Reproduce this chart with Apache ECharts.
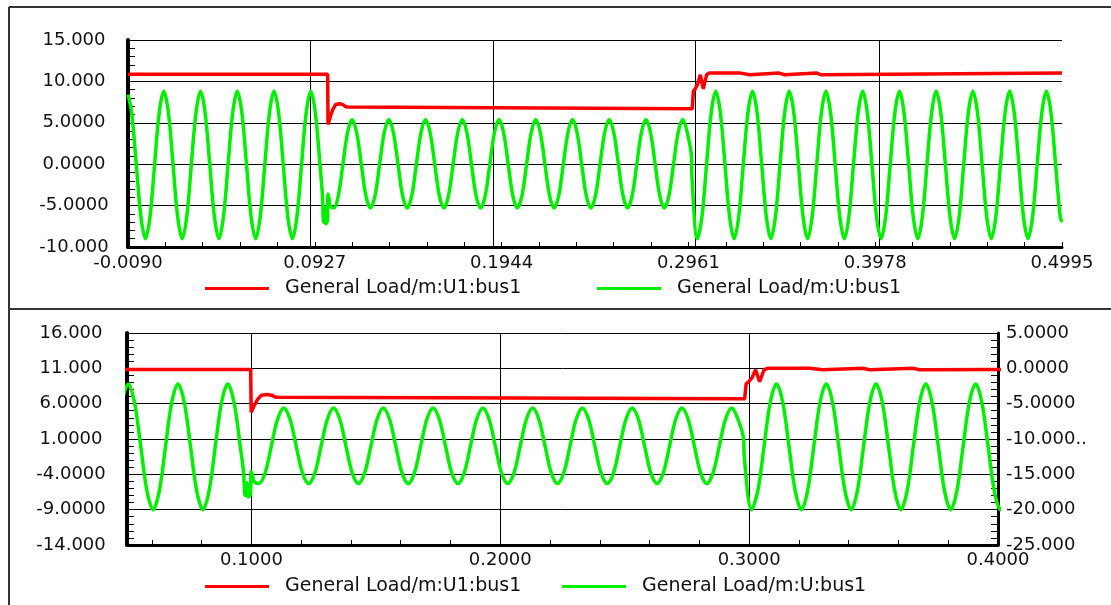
<!DOCTYPE html>
<html><head><meta charset="utf-8">
<script src="https://cdn.jsdelivr.net/npm/echarts@6/dist/echarts.min.js"></script>
<style>html,body{margin:0;padding:0;background:#fff}#c{width:1111px;height:605px}</style>
</head><body><div id="c"></div>
<script>
// ---- series names ----
const seriesNames = ['General Load/m:U1:bus1', 'General Load/m:U:bus1'];

// ---- red: General Load/m:U1:bus1  [time, value] ----
const redPts = [
[-0.009,10.85],[0.0997,10.85],[0.0999,4.8],[0.1005,4.9],[0.1012,5.8],[0.1025,6.6],[0.104,7.2],[0.1065,7.3],[0.108,7.2],[0.1095,6.95],[0.111,6.9],[0.1118,6.7],
[0.2982,6.7],[0.2988,8.8],[0.2998,9.1],[0.3012,9.7],[0.3026,10.8],[0.3032,10.8],[0.3042,9.1],[0.3048,9.2],[0.306,10.8],[0.3075,11.0],
[0.3245,11.0],[0.325,10.8],[0.3295,10.8],[0.33,11.0],[0.3455,11.0],[0.346,10.8],[0.3485,10.8],[0.349,11.0],
[0.366,11.0],[0.3665,10.8],[0.3685,10.8],[0.369,11.0],[0.4995,11.0]
];

// ---- green: General Load/m:U:bus1  [time, value] ----
const greenPre = [
[-0.009,8.4],[-0.007,6.2],[-0.0045,0],[-0.002,-6.3],
[0.0005,-9.0],[0.003,-6.3],[0.0055,0],[0.008,6.2],[0.0105,8.8],[0.013,6.2],[0.0155,0],[0.018,-6.3],
[0.0205,-9.0],[0.023,-6.3],[0.0255,0],[0.028,6.2],[0.0305,8.8],[0.033,6.2],[0.0355,0],[0.038,-6.3],
[0.0405,-9.0],[0.043,-6.3],[0.0455,0],[0.048,6.2],[0.0505,8.8],[0.053,6.2],[0.0555,0],[0.058,-6.3],
[0.0605,-9.0],[0.063,-6.3],[0.0655,0],[0.068,6.2],[0.0705,8.8],[0.073,6.2],[0.0755,0],[0.078,-6.3],
[0.0805,-9.0],[0.083,-6.3],[0.0855,0],[0.088,6.2],[0.0905,8.8],[0.093,6.2],[0.0955,0],[0.0968,-3.6]
];
const greenFault = [
[0.0975,-7.0],[0.0982,-5.2],[0.0988,-7.2],[0.0996,-6.8],[0.0999,-3.6],[0.1005,-4.2],[0.101,-5.0],
[0.103,-5.3],[0.1055,-3.8],[0.108,0],[0.1105,3.8],
[0.113,5.4],[0.1155,3.8],[0.118,0],[0.1205,-3.8],[0.123,-5.3],[0.1255,-3.8],[0.128,0],[0.1305,3.8],
[0.133,5.4],[0.1355,3.8],[0.138,0],[0.1405,-3.8],[0.143,-5.3],[0.1455,-3.8],[0.148,0],[0.1505,3.8],
[0.153,5.4],[0.1555,3.8],[0.158,0],[0.1605,-3.8],[0.163,-5.3],[0.1655,-3.8],[0.168,0],[0.1705,3.8],
[0.173,5.4],[0.1755,3.8],[0.178,0],[0.1805,-3.8],[0.183,-5.3],[0.1855,-3.8],[0.188,0],[0.1905,3.8],
[0.193,5.4],[0.1955,3.8],[0.198,0],[0.2005,-3.8],[0.203,-5.3],[0.2055,-3.8],[0.208,0],[0.2105,3.8],
[0.213,5.4],[0.2155,3.8],[0.218,0],[0.2205,-3.8],[0.223,-5.3],[0.2255,-3.8],[0.228,0],[0.2305,3.8],
[0.233,5.4],[0.2355,3.8],[0.238,0],[0.2405,-3.8],[0.243,-5.3],[0.2455,-3.8],[0.248,0],[0.2505,3.8],
[0.253,5.4],[0.2555,3.8],[0.258,0],[0.2605,-3.8],[0.263,-5.3],[0.2655,-3.8],[0.268,0],[0.2705,3.8],
[0.273,5.4],[0.2755,3.8],[0.278,0],[0.2805,-3.8],[0.283,-5.3],[0.2855,-3.8],[0.288,0],[0.2905,3.8],
[0.293,5.4],[0.2955,3.8],[0.2978,0.9]
];
const greenPost = [
[0.298,-1.3],
[0.301,-9.0],[0.3035,-6.3],[0.306,0],[0.3085,6.2],[0.311,8.8],[0.3135,6.2],[0.316,0],[0.3185,-6.3],
[0.321,-9.0],[0.3235,-6.3],[0.326,0],[0.3285,6.2],[0.331,8.8],[0.3335,6.2],[0.336,0],[0.3385,-6.3],
[0.341,-9.0],[0.3435,-6.3],[0.346,0],[0.3485,6.2],[0.351,8.8],[0.3535,6.2],[0.356,0],[0.3585,-6.3],
[0.361,-9.0],[0.3635,-6.3],[0.366,0],[0.3685,6.2],[0.371,8.8],[0.3735,6.2],[0.376,0],[0.3785,-6.3],
[0.381,-9.0],[0.3835,-6.3],[0.386,0],[0.3885,6.2],[0.391,8.8],[0.3935,6.2],[0.396,0],[0.3985,-6.3],
[0.401,-9.0],[0.4035,-6.3],[0.406,0],[0.4085,6.2],[0.411,8.8],[0.4135,6.2],[0.416,0],[0.4185,-6.3],
[0.421,-9.0],[0.4235,-6.3],[0.426,0],[0.4285,6.2],[0.431,8.8],[0.4335,6.2],[0.436,0],[0.4385,-6.3],
[0.441,-9.0],[0.4435,-6.3],[0.446,0],[0.4485,6.2],[0.451,8.8],[0.4535,6.2],[0.456,0],[0.4585,-6.3],
[0.461,-9.0],[0.4635,-6.3],[0.466,0],[0.4685,6.2],[0.471,8.8],[0.4735,6.2],[0.476,0],[0.4785,-6.3],
[0.481,-9.0],[0.4835,-6.3],[0.486,0],[0.4885,6.2],[0.491,8.8],[0.4935,6.2],[0.496,0],[0.4985,-6.3],
[0.4995,-7.0]
];

// ---- tick values and labels ----
const topXTicks  = [-0.009, 0.0927, 0.1944, 0.2961, 0.3978, 0.4995];
const topXLabels = ['-0.0090','0.0927','0.1944','0.2961','0.3978','0.4995'];
const topYTicks  = [-10, -5, 0, 5, 10, 15];
const topYLabels = ['-10.000','-5.0000','0.0000','5.0000','10.000','15.000'];
const botXTicks  = [0.1, 0.2, 0.3, 0.4];
const botXLabels = ['0.1000','0.2000','0.3000','0.4000'];
const botXMinor  = [0.06,0.08,0.1,0.12,0.14,0.16,0.18,0.2,0.22,0.24,0.26,0.28,0.3,0.32,0.34,0.36,0.38,0.4];
const botYTicks  = [-14, -9, -4, 1, 6, 11, 16];
const botYLabels = ['-14.000','-9.0000','-4.0000','1.0000','6.0000','11.000','16.000'];
const botY2Ticks  = [-25, -20, -15, -10, -5, 0, 5];
const botY2Labels = ['-25.000','-20.000','-15.000','-10.000..','-5.0000','0.0000','5.0000'];

// ---- build ----
const greenPts = greenPre.concat(greenFault, greenPost);
const topXMinor = [];
for (let i = 0; i < topXTicks.length - 1; i++) {
  for (let j = 0; j < 5; j++) topXMinor.push(topXTicks[i] + (topXTicks[i+1] - topXTicks[i]) * j / 5);
}
topXMinor.push(topXTicks[topXTicks.length - 1]);
const botYMinor = [];
for (let v = botYTicks[0]; v <= botYTicks[botYTicks.length - 1]; v++) botYMinor.push(v);

function lab(ticks, labels) {
  return function (v) {
    let b = 0;
    for (let i = 1; i < ticks.length; i++) if (Math.abs(ticks[i] - v) < Math.abs(ticks[b] - v)) b = i;
    return labels[b];
  };
}

const FONT = 'DejaVu Sans';
const TXT = '#111';
const GREEN = '#00f000';
const RED = '#ff0000';
const lbl = (extra) => Object.assign({fontSize: 18, fontFamily: FONT, color: TXT}, extra);
const black = (w) => ({color: '#000', width: w});

function gridLines(xi, yi, vals) {
  return {
    type: 'line', xAxisIndex: xi, yAxisIndex: yi, data: [], silent: true,
    markLine: {
      silent: true, symbol: 'none', z: 1, animation: false,
      label: {show: false}, emphasis: {disabled: true},
      lineStyle: {color: '#000', width: 1, type: 'solid'},
      data: vals.map(v => ({xAxis: v}))
    }
  };
}
function greenSeries(xi, yi) {
  return {name: seriesNames[1], type: 'line', xAxisIndex: xi, yAxisIndex: yi, data: greenPts,
    showSymbol: false, z: 2, smooth: 0.35,
    color: GREEN, lineStyle: {color: GREEN, width: 3.5}};
}
function redSeries(xi, yi) {
  return {name: seriesNames[0], type: 'line', xAxisIndex: xi, yAxisIndex: yi, data: redPts,
    showSymbol: false, z: 3, color: RED, lineStyle: {color: RED, width: 3.5}};
}

const chart = echarts.init(document.getElementById('c'), null, {renderer: 'canvas'});
chart.setOption({
  animation: false,
  backgroundColor: '#fff',
  graphic: [
    {type: 'line', silent: true, shape: {x1: 9, y1: 7, x2: 9, y2: 605}, style: {stroke: '#333', lineWidth: 2}},
    {type: 'line', silent: true, shape: {x1: 9, y1: 7, x2: 1111, y2: 7}, style: {stroke: '#333', lineWidth: 2}},
    {type: 'line', silent: true, shape: {x1: 9, y1: 309, x2: 1111, y2: 309}, style: {stroke: '#333', lineWidth: 2}}
  ],
  grid: [
    {left: 128, right: 49, top: 40, height: 207},
    {left: 127, right: 113, top: 333, height: 212}
  ],
  legend: [
    {data: [seriesNames[0]], left: 205, top: 278},
    {data: [seriesNames[1]], left: 597, top: 278},
    {data: [seriesNames[0]], left: 205, top: 576},
    {data: [seriesNames[1]], left: 562, top: 576}
  ].map(l => Object.assign(l, {
    padding: 0, icon: 'rect', itemWidth: 64, itemHeight: 3, selectedMode: false,
    textStyle: {fontSize: 19, fontFamily: FONT, color: TXT, padding: [0, 0, 0, 11], lineHeight: 21}
  })),
  xAxis: [
    {gridIndex: 0, type: 'value', min: topXTicks[0], max: topXTicks[topXTicks.length - 1],
     axisLine: {show: true, onZero: false, lineStyle: black(3)},
     axisTick: {show: true, inside: true, length: 5, customValues: topXMinor, lineStyle: black(1)},
     axisLabel: lbl({customValues: topXTicks, formatter: lab(topXTicks, topXLabels), margin: 7}),
     splitLine: {show: false}},
    {gridIndex: 1, type: 'value', min: 0.05, max: 0.4,
     axisLine: {show: true, onZero: false, lineStyle: black(3)},
     axisTick: {show: true, inside: true, length: 5, customValues: botXMinor, lineStyle: black(1)},
     axisLabel: lbl({customValues: botXTicks, formatter: lab(botXTicks, botXLabels), margin: 6}),
     splitLine: {show: false}}
  ],
  yAxis: [
    {gridIndex: 0, type: 'value', min: -10, max: 15, interval: 5,
     axisLine: {show: true, onZero: false, lineStyle: black(4)},
     axisTick: {show: true, inside: true, length: 7, lineStyle: black(1)},
     minorTick: {show: true, splitNumber: 5, length: 7, lineStyle: black(1)},
     axisLabel: lbl({formatter: lab(topYTicks, topYLabels), margin: 54, align: 'center'}),
     splitLine: {show: true, lineStyle: black(1)}},
    {gridIndex: 1, type: 'value', min: -14, max: 16,
     axisLine: {show: true, onZero: false, lineStyle: black(4)},
     axisTick: {show: true, inside: true, length: 7, customValues: botYMinor, lineStyle: black(1)},
     axisLabel: lbl({customValues: botYTicks, formatter: lab(botYTicks, botYLabels), margin: 56, align: 'center'}),
     splitLine: {show: false}},
    {gridIndex: 1, type: 'value', position: 'right', min: -25, max: 5, interval: 5,
     axisLine: {show: true, onZero: false, lineStyle: black(3)},
     axisTick: {show: true, inside: true, length: 7, lineStyle: black(1)},
     minorTick: {show: true, splitNumber: 5, length: 7, lineStyle: black(1)},
     axisLabel: lbl({formatter: lab(botY2Ticks, botY2Labels), margin: 8, align: 'left'}),
     splitLine: {show: true, lineStyle: black(1)}}
  ],
  series: [
    gridLines(0, 0, topXTicks.slice(1)),
    gridLines(1, 1, botXTicks.slice(0, 3)),
    greenSeries(0, 0),
    redSeries(0, 0),
    greenSeries(1, 1),
    redSeries(1, 1)
  ]
});
</script>
</body></html>
